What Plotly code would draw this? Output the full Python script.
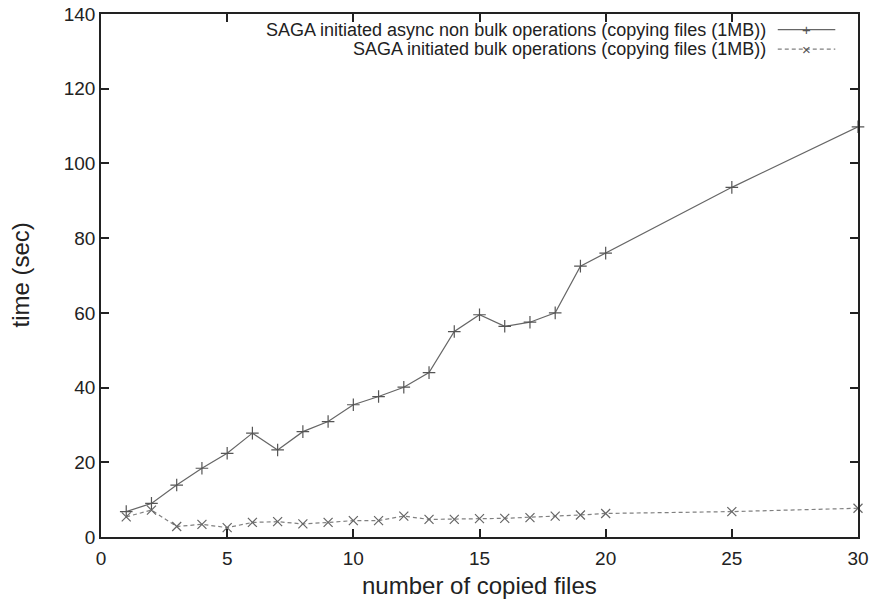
import plotly.graph_objects as go

files_nonbulk = [1, 2, 3, 4, 5, 6, 7, 8, 9, 10, 11, 12, 13, 14, 15, 16, 17, 18, 19, 20, 25, 30]
time_nonbulk = [6.8, 9.0, 13.9, 18.4, 22.4, 27.8, 23.3, 28.2, 30.9, 35.4, 37.6, 40.1, 44.0, 55.0, 59.5, 56.4, 57.5, 60.0, 72.5, 76.0, 93.6, 109.8]

files_bulk = [1, 2, 3, 4, 5, 6, 7, 8, 9, 10, 11, 12, 13, 14, 15, 16, 17, 18, 19, 20, 25, 30]
time_bulk = [5.4, 7.2, 2.8, 3.4, 2.5, 3.9, 4.1, 3.5, 3.9, 4.4, 4.4, 5.6, 4.7, 4.7, 4.9, 5.0, 5.2, 5.6, 5.9, 6.3, 6.8, 7.7]

series_names = [
    "SAGA initiated async non bulk operations (copying files (1MB))",
    "SAGA initiated bulk operations (copying files (1MB))",
]
x_title = "number of copied files"
y_title = "time (sec)"
x_ticks = [0, 5, 10, 15, 20, 25, 30]
y_ticks = [0, 20, 40, 60, 80, 100, 120, 140]

FONT = "Liberation Sans, Arial, sans-serif"
TXT = "#222222"

fig = go.Figure()
fig.add_trace(go.Scatter(
    x=files_nonbulk, y=time_nonbulk, mode="lines+markers", name=series_names[0],
    line=dict(color="#666666", width=1.2, dash="solid"),
    marker=dict(symbol="cross-thin", size=9, line=dict(color="#555555", width=1.2)),
    showlegend=False, cliponaxis=False,
))
fig.add_trace(go.Scatter(
    x=files_bulk, y=time_bulk, mode="lines+markers", name=series_names[1],
    line=dict(color="#808080", width=1.2, dash="4px,3px"),
    marker=dict(symbol="x-thin", size=9, line=dict(color="#666666", width=1.2)),
    showlegend=False, cliponaxis=False,
))

# custom gnuplot-style legend (text right, sample on the right)
leg_y = [0.970, 0.933]
dashes = ["solid", "4px,3px"]
symbols = ["+", "×"]
colors = ["#666666", "#808080"]
for i in range(2):
    fig.add_annotation(
        xref="paper", yref="paper", x=0.881, y=leg_y[i], xanchor="right", yanchor="middle",
        text=series_names[i], showarrow=False, font=dict(family=FONT, size=18, color=TXT),
    )
    fig.add_shape(
        type="line", xref="paper", yref="paper", x0=0.894, x1=0.970, y0=leg_y[i], y1=leg_y[i],
        line=dict(color=colors[i], width=1.2, dash=dashes[i]),
    )
    fig.add_annotation(
        xref="paper", yref="paper", x=0.932, y=leg_y[i], xanchor="center", yanchor="middle",
        text=symbols[i], showarrow=False, font=dict(family=FONT, size=15, color="#555555"),
    )

# axis titles
fig.add_annotation(
    xref="paper", yref="paper", x=0.5, y=0, yshift=-48, xanchor="center", yanchor="middle",
    text=x_title, showarrow=False, font=dict(family=FONT, size=24, color=TXT),
)
fig.add_annotation(
    xref="paper", yref="paper", x=0, y=0.5, xshift=-81, xanchor="center", yanchor="middle",
    text=y_title, textangle=-90, showarrow=False, font=dict(family=FONT, size=24, color=TXT),
)

axis_common = dict(
    showgrid=False, zeroline=False, showline=True, linecolor="#222222", linewidth=1.5,
    mirror="ticks", ticks="inside", ticklen=8, tickwidth=1.5, tickcolor="#222222",
    tickfont=dict(family=FONT, size=19, color=TXT),
    automargin=False, ticklabeloverflow="allow",
)
fig.update_xaxes(
    range=[0, 30], tickvals=x_ticks, ticktext=[str(v) for v in x_ticks],
    ticklabelstandoff=3,
    **axis_common,
)
fig.update_yaxes(
    range=[0, 140], tickvals=y_ticks, ticktext=[str(v) for v in y_ticks],
    **axis_common,
)
fig.update_layout(
    width=869, height=592,
    margin=dict(l=93, r=19, t=6, b=63),
    paper_bgcolor="white", plot_bgcolor="white",
    font=dict(family=FONT, color=TXT),
)
fig.write_html("out.html")
